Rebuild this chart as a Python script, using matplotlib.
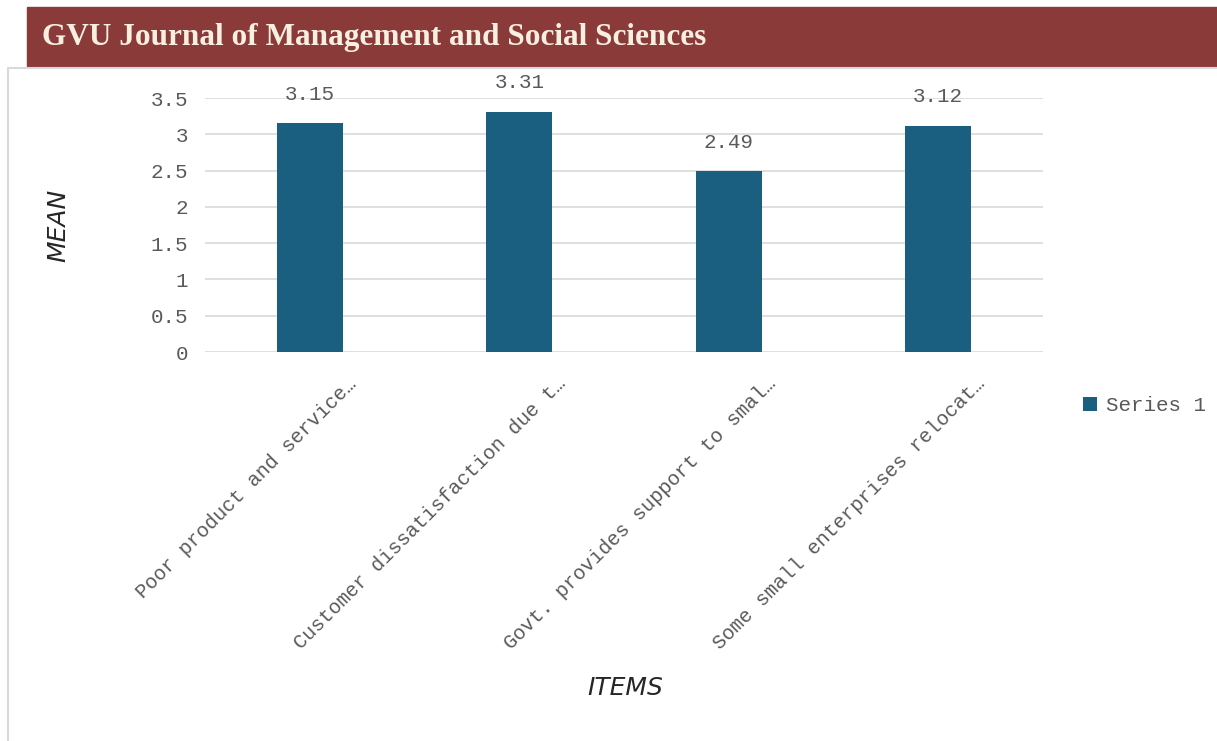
import matplotlib
matplotlib.use("Agg")
import matplotlib.pyplot as plt
from matplotlib.patches import Rectangle
from matplotlib.lines import Line2D
from matplotlib.transforms import ScaledTranslation

# item means
items = [
    "Poor product and service…",
    "Customer dissatisfaction due t…",
    "Govt. provides support to smal…",
    "Some small enterprises relocat…",
]
means = [3.15, 3.31, 2.49, 3.12]
y_ticks = [0, 0.5, 1, 1.5, 2, 2.5, 3, 3.5]
y_tick_labels = ["0", "0.5", "1", "1.5", "2", "2.5", "3", "3.5"]

BAR = "#1a5f80"
GRID = "#d9d9d9"
TICK = "#595959"
MONO = "Liberation Mono"

W, H = 1217, 741
fig = plt.figure(figsize=(W / 100, H / 100), dpi=100)

# journal banner
fig.patches.append(Rectangle((27 / W, 1 - 66 / H), 1 - 27 / W, 59 / H,
                             transform=fig.transFigure, color="#8b3a3a", zorder=0))
fig.text(42 / W, 1 - 37 / H, "GVU Journal of Management and Social Sciences",
         family="Liberation Serif", weight="bold", fontsize=22.5, color="#f7efe0",
         va="center", ha="left")

# chart frame
fig.lines.append(Line2D([8 / W, 8 / W, 1], [0, 1 - 68 / H, 1 - 68 / H],
                        transform=fig.transFigure, color=GRID, lw=1.5))

ax = fig.add_axes([205 / W, 1 - 352 / H, 838 / W, 254 / H])
x = range(len(items))
bars = ax.bar(x, means, width=0.315, color=BAR, zorder=3, label="Series 1")
ax.bar_label(bars, labels=[f"{v:.2f}" for v in means], padding=14,
             family=MONO, fontsize=15, color=TICK)

ax.set_xlim(-0.5, len(items) - 0.5)
ax.set_ylim(0, 3.5)
ax.set_yticks(y_ticks)
ax.set_yticklabels(y_tick_labels, family=MONO, fontsize=15, color=TICK)
ax.yaxis.grid(True, color=GRID, lw=1.2, zorder=0)
ax.tick_params(length=0, pad=12)
for s in ax.spines.values():
    s.set_visible(False)

ax.set_xticks(list(x))
ax.set_xticklabels(items, rotation=45, ha="right", va="center",
                   rotation_mode="anchor", family=MONO, fontsize=14.5, color=TICK)
shift = ScaledTranslation(0.44, -0.12, fig.dpi_scale_trans)
for lbl in ax.get_xticklabels():
    lbl.set_transform(lbl.get_transform() + shift)

fig.text(58 / W, 1 - 225 / H, "MEAN", rotation=90, fontsize=18, color="#262626",
         ha="center", va="center", style="italic")
fig.text(625 / W, 1 - 688 / H, "ITEMS", fontsize=18, color="#262626",
         ha="center", va="center", style="italic")

fig.legend(handles=[bars], loc="center left", bbox_to_anchor=(1064 / W, 1 - 406 / H),
           frameon=False, prop={"family": MONO, "size": 15}, labelcolor=TICK,
           handlelength=0.7, handleheight=0.7, handletextpad=0.4)

fig.savefig("out.png", dpi=100)
